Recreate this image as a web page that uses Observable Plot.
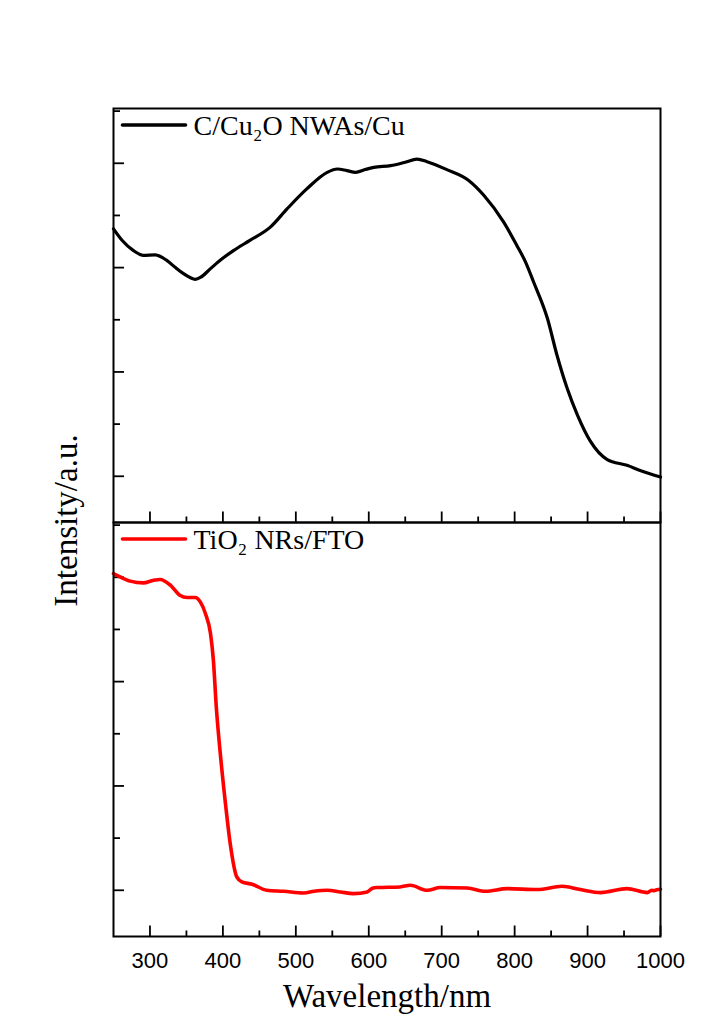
<!DOCTYPE html>
<html><head><meta charset="utf-8">
<script src="https://cdn.jsdelivr.net/npm/d3@7"></script>
<script src="https://cdn.jsdelivr.net/npm/@observablehq/plot@0.6"></script>
<style>html,body{margin:0;padding:0;background:#fff}#chart{width:723px;height:1028px}</style>
</head><body><div id="chart"></div>
<script>
// ---- data ----
const series = ["C/Cu₂O NWAs/Cu", "TiO₂ NRs/FTO"];
const seriesColors = ["#000000", "#ff0000"];

const cuWavelength = [250, 262, 277, 291, 307, 323, 335, 346, 355, 362, 370, 383, 398, 415, 437, 465, 488, 515, 543, 557, 570, 582, 595, 607, 630, 650, 666, 680, 707, 737, 758, 785, 803, 815, 826, 845, 858, 872, 886, 904, 927, 954, 973, 1000];
const cuIntensity = [2.372, 2.26, 2.165, 2.118, 2.123, 2.07, 2.0, 1.942, 1.905, 1.888, 1.91, 1.99, 2.08, 2.165, 2.261, 2.388, 2.563, 2.754, 2.913, 2.945, 2.93, 2.913, 2.94, 2.961, 2.977, 3.01, 3.04, 3.015, 2.939, 2.835, 2.691, 2.436, 2.213, 2.053, 1.862, 1.512, 1.162, 0.843, 0.589, 0.334, 0.16, 0.105, 0.054, -0.007];

const tiWavelength = [250, 259, 273, 291, 305, 314, 328, 341, 351, 362, 369, 376, 383, 387, 391, 396, 403, 410, 419, 426, 440, 460, 483, 511, 525, 543, 561, 579, 598, 605, 611, 643, 657, 680, 698, 735, 760, 790, 831, 865, 890, 918, 954, 982, 988, 991, 995, 1000];
const tiIntensity = [3.036, 3.004, 2.963, 2.946, 2.972, 2.979, 2.924, 2.828, 2.806, 2.806, 2.764, 2.653, 2.461, 2.2, 1.75, 1.342, 0.863, 0.448, 0.128, 0.08, 0.058, 0.0, -0.01, -0.026, -0.01, 0.0, -0.016, -0.032, -0.016, 0.02, 0.026, 0.032, 0.048, 0.0, 0.026, 0.022, -0.01, 0.016, 0.007, 0.038, 0.007, -0.022, 0.016, -0.022, 0.0, -0.005, 0.005, 0.01];

const xMajorTicks = [300, 400, 500, 600, 700, 800, 900, 1000];
const xMinorTicks = [350, 450, 550, 650, 750, 850, 950];
const yMajorTicks = [0, 1, 2, 3];
const yMinorTicks = [0.5, 1.5, 2.5, 3.5];
const xLabel = "Wavelength/nm";
const yLabel = "Intensity/a.u.";

// ---- build ----
const cuRows = cuWavelength.map((w, i) => ({series: series[0], wavelength: w, intensity: cuIntensity[i]}));
const tiRows = tiWavelength.map((w, i) => ({series: series[1], wavelength: w, intensity: tiIntensity[i]}));

const W = 723, H = 1028, mL = 113, mR = 63, mT = 107, mB = 92;
const panelW = W - mL - mR, panelH = (H - mT - mB) / 2;
const serif = "'Liberation Serif','Times New Roman',serif";
const sans = "'Liberation Sans',Arial,sans-serif";
const tickW = 1.8;

const chart = Plot.plot({
  width: W, height: H,
  marginLeft: mL, marginRight: mR, marginTop: mT, marginBottom: mB,
  style: {background: "white", color: "black", overflow: "visible"},
  x: {domain: [250, 1000], axis: null},
  y: {domain: [-0.443, 3.525], axis: null},
  fy: {domain: series, padding: 0, axis: null},
  color: {domain: series, range: seriesColors},
  marks: [
    Plot.tickX(xMajorTicks, {x: d => d, insetTop: panelH - 11, strokeWidth: tickW, stroke: "black"}),
    Plot.tickX(xMinorTicks, {x: d => d, insetTop: panelH - 6, strokeWidth: tickW, stroke: "black"}),
    Plot.tickY(yMajorTicks, {y: d => d, insetRight: panelW - 11, strokeWidth: tickW, stroke: "black"}),
    Plot.tickY(yMinorTicks, {y: d => d, insetRight: panelW - 7, strokeWidth: tickW, stroke: "black"}),
    Plot.line(cuRows, {x: "wavelength", y: "intensity", fy: "series", stroke: "series", strokeWidth: 3.2, curve: "monotone-x"}),
    Plot.line(tiRows, {x: "wavelength", y: "intensity", fy: "series", stroke: "series", strokeWidth: 3.6, curve: "monotone-x"}),
    Plot.frame({stroke: "black", strokeWidth: 2}),
    Plot.vector(series, {
      fy: d => d, stroke: d => d, frameAnchor: "top-left", dx: 9, dy: 16.5,
      length: 63, rotate: 90, anchor: "start", strokeWidth: 3.6,
      shape: {draw(context, l) { context.moveTo(0, 0); context.lineTo(0, -l); }}
    }),
    Plot.text(series, {
      fy: d => d, text: d => d, frameAnchor: "top-left", dx: 80, dy: 18,
      textAnchor: "start", lineAnchor: "middle", fontSize: 28, fontFamily: serif, fill: "black"
    }),
    Plot.axisX({ticks: xMajorTicks, tickSize: 0, tickPadding: 16, fontSize: 22, fontFamily: sans, label: null, tickFormat: d => String(d)}),
    Plot.text([yLabel], {
      fy: () => series[0], text: d => d, frameAnchor: "bottom-left", dx: -47, dy: -2, rotate: -90,
      textAnchor: "middle", lineAnchor: "middle", fontSize: 33, fontFamily: serif, fill: "black"
    }),
    Plot.text([xLabel], {
      fy: () => series[1], text: d => d, frameAnchor: "bottom", dy: 60,
      textAnchor: "middle", lineAnchor: "middle", fontSize: 33, fontFamily: serif, fill: "black"
    })
  ]
});
document.getElementById("chart").appendChild(chart);
</script>
</body></html>
